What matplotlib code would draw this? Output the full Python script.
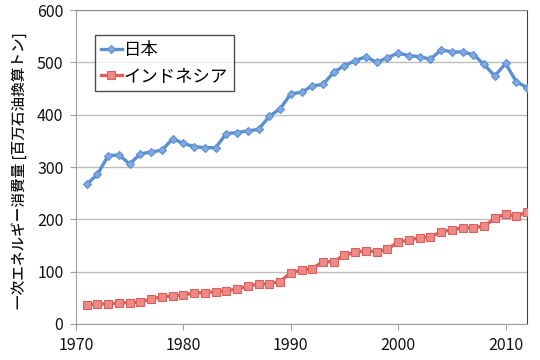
import matplotlib
matplotlib.use("Agg")
import matplotlib.pyplot as plt

plt.rcParams['font.family'] = ['Noto Sans CJK JP', 'DejaVu Sans']

years = list(range(1971, 2013))
japan = [267, 286, 322, 323, 306, 325, 329, 332, 354, 345,
         339, 337, 337, 364, 366, 369, 372, 397, 411, 440,
         443, 455, 458, 481, 494, 503, 511, 500, 509, 518,
         513, 511, 506, 524, 520, 520, 515, 496, 474, 498,
         463, 452]
indonesia = [37, 38, 39, 40, 41, 42, 48, 52, 54, 56,
             59, 60, 62, 64, 66, 73, 76, 77, 81, 98,
             103, 106, 119, 119, 132, 137, 140, 138, 143, 157,
             160, 165, 167, 176, 180, 184, 184, 187, 202, 210,
             206, 214]
series_names = ["日本", "インドネシア"]
xticks = [1970, 1980, 1990, 2000, 2010]
yticks = [0, 100, 200, 300, 400, 500, 600]
ylabel = "一次エネルギー消費量 [百万石油換算トン]"

fig = plt.figure(figsize=(5.4, 3.6), dpi=100)
ax = fig.add_axes([0.1407, 0.1, 0.976 - 0.1407, 0.972 - 0.1])

ax.plot(years, japan, color="#5B8FD2", lw=2.4, marker="D", ms=4.5,
        mfc="#7FAAE0", mec="#5B8FD2", mew=0.8, label=series_names[0], zorder=3)
ax.plot(years, indonesia, color="#D9605C", lw=2.4, marker="s", ms=5.5,
        mfc="#EE8A86", mec="#D9605C", mew=0.8, label=series_names[1], zorder=3)

ax.set_xlim(1970, 2012)
ax.set_ylim(0, 600)
ax.set_xticks(xticks)
ax.set_yticks(yticks)
ax.grid(axis="y", color="#BDBDBD", lw=1)
ax.set_axisbelow(True)
ax.tick_params(axis="both", direction="out", length=4, color="#A0A0A0",
               labelsize=11.5, labelcolor="#111111")
ax.tick_params(axis="y", pad=5)
ax.tick_params(axis="x", pad=5)
for s in ["left", "bottom"]:
    ax.spines[s].set_color("#A0A0A0")
ax.spines["top"].set_color("#8A8A8A")
ax.spines["right"].set_color("#404040")

ax.set_ylabel(ylabel, fontsize=10.5, color="#111111", fontweight="medium")
ax.yaxis.set_label_coords(-0.108, 0.49)

leg = ax.legend(loc="upper left", bbox_to_anchor=(0.042, 0.92), fontsize=12.5,
                frameon=True, fancybox=False, edgecolor="#222222",
                borderpad=0.35, borderaxespad=0, labelspacing=0.45,
                handlelength=1.2, handletextpad=0.1)
leg.get_frame().set_linewidth(1.0)

fig.savefig("out.png", dpi=100)
